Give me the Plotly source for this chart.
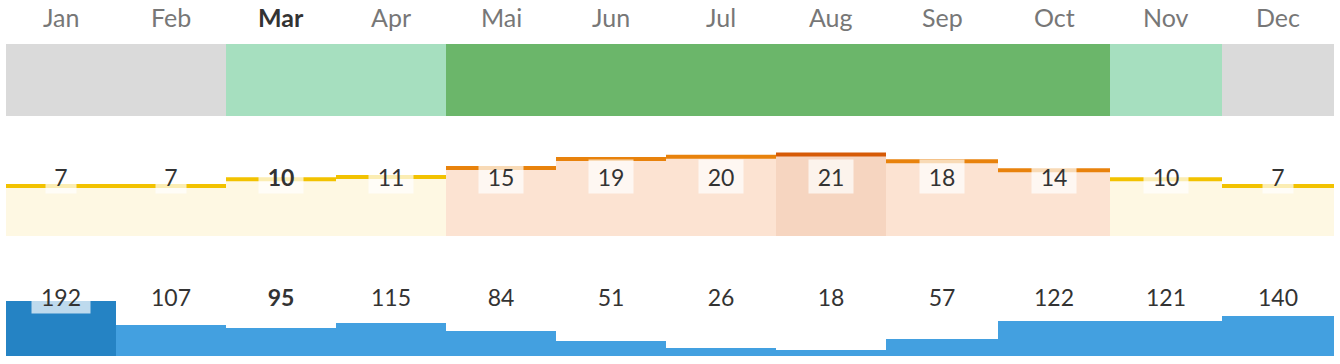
import plotly.graph_objects as go

# ---------------- data ----------------
months = ["Jan", "Feb", "Mar", "Apr", "Mai", "Jun", "Jul", "Aug", "Sep", "Oct", "Nov", "Dec"]
season = ["off", "off", "shoulder", "shoulder", "peak", "peak", "peak", "peak", "peak", "peak", "shoulder", "off"]
temps = [7, 7, 10, 11, 15, 19, 20, 21, 18, 14, 10, 7]
precip = [192, 107, 95, 115, 84, 51, 26, 18, 57, 122, 121, 140]
current_month = "Mar"

# ---------------- styling / layout constants ----------------
W, H = 1340, 364
FONT = "Lato"
season_colors = {"off": "#dadada", "shoulder": "#a6dfbf", "peak": "#6bb66a"}
WARM_THRESHOLD = 13
cool_fill, cool_line = "#fef8e3", "#f2c200"
warm_fill, warm_line = "#fce3d2", "#e8820c"
max_fill, max_line = "#f6d5c0", "#d65a06"
bar_color, bar_max_color = "#43a0e0", "#2583c4"

T_PX = 2.25            # pixels per degree
T_ZERO = 201.75        # pixel row of 0 degrees
P_PX = 0.28            # pixels per mm
P_BASE = 1.0           # minimum visible bar height in px

# the page lays the 12 columns out with slightly different widths
# (first 8 columns 110 px, last 4 columns 112 px) -> two x scales
X_SPLIT = 8
X_LEFT, X_MID, X_RIGHT = 6, 886, 1334


def py(p):
    return 1 - p / H


n = len(months)
cur = months.index(current_month)
tmax_i = temps.index(max(temps))
pmax_i = precip.index(max(precip))
segments = [(0, X_SPLIT, "x"), (X_SPLIT, n, "x2")]

fills, lines = [], []
for i, t in enumerate(temps):
    if i == tmax_i:
        fills.append(max_fill); lines.append(max_line)
    elif t >= WARM_THRESHOLD:
        fills.append(warm_fill); lines.append(warm_line)
    else:
        fills.append(cool_fill); lines.append(cool_line)

t_lo = (T_ZERO - 236) / T_PX
t_hi = (T_ZERO - 140) / T_PX
p_lo = -P_BASE / P_PX
p_hi = (86 - P_BASE) / P_PX

fig = go.Figure()

for a, b, xa in segments:
    idx = list(range(a, b))
    xs = [i + 0.5 for i in idx]
    # season band
    fig.add_trace(go.Bar(
        x=xs, y=[1] * len(idx), width=1, base=0,
        marker=dict(color=[season_colors[season[i]] for i in idx], line=dict(width=0)),
        xaxis=xa, yaxis="y", hoverinfo="skip", showlegend=False))
    # temperature fill
    fig.add_trace(go.Bar(
        x=xs, y=[temps[i] - t_lo for i in idx], base=t_lo, width=1,
        marker=dict(color=[fills[i] for i in idx], line=dict(width=0)),
        xaxis=xa, yaxis="y2", hoverinfo="skip", showlegend=False))
    # temperature lines
    for i in idx:
        fig.add_trace(go.Scatter(
            x=[i, i + 1], y=[temps[i], temps[i]], mode="lines",
            line=dict(color=lines[i], width=4),
            xaxis=xa, yaxis="y2", hoverinfo="skip", showlegend=False))
    # precipitation
    fig.add_trace(go.Bar(
        x=xs, y=[precip[i] - p_lo for i in idx], base=p_lo, width=1,
        marker=dict(color=[bar_max_color if i == pmax_i else bar_color for i in idx],
                    line=dict(width=0)),
        xaxis=xa, yaxis="y3", hoverinfo="skip", showlegend=False))

annotations = []
for a, b, xa in segments:
    for i in range(a, b):
        bold = (i == cur)
        annotations.append(dict(
            x=i + 0.5, xref=xa, y=py(17), yref="paper", text=months[i], showarrow=False,
            xanchor="center", yanchor="middle",
            font=dict(family=FONT, size=25, color="#333333" if bold else "#777777",
                      weight=700 if bold else 400)))
        for val, ypix in ((temps[i], 176.7), (precip[i], 296.8)):
            s = str(val)
            annotations.append(dict(
                x=i + 0.5, xref=xa, y=py(ypix), yref="paper", text=s, showarrow=False,
                xanchor="center", yanchor="middle",
                width=14 * len(s) + 8, height=25, borderpad=4,
                bgcolor="rgba(255,255,255,0.7)",
                font=dict(family=FONT, size=23, color="#333333",
                          weight=700 if bold else 400)))

fig.update_layout(
    width=W, height=H, margin=dict(l=0, r=0, t=0, b=0),
    paper_bgcolor="white", plot_bgcolor="white",
    barmode="overlay", bargap=0, showlegend=False,
    xaxis=dict(range=[0, X_SPLIT], domain=[X_LEFT / W, X_MID / W], visible=False, fixedrange=True),
    xaxis2=dict(range=[X_SPLIT, n], domain=[X_MID / W, X_RIGHT / W], visible=False, fixedrange=True,
                anchor="y"),
    yaxis=dict(range=[0, 1], domain=[py(116), py(44)], visible=False, fixedrange=True),
    yaxis2=dict(range=[t_lo, t_hi], domain=[py(236), py(140)], visible=False, fixedrange=True),
    yaxis3=dict(range=[p_lo, p_hi], domain=[py(356), py(270)], visible=False, fixedrange=True),
    annotations=annotations,
)

fig.write_html("out.html", config={"displayModeBar": False})

# remove the browser's default page margin so the figure sits at (0, 0)
with open("out.html", encoding="utf-8") as f:
    html = f.read()
html = html.replace("<head>", "<head><style>html,body{margin:0;padding:0;overflow:hidden;}</style>", 1)
with open("out.html", "w", encoding="utf-8") as f:
    f.write(html)
